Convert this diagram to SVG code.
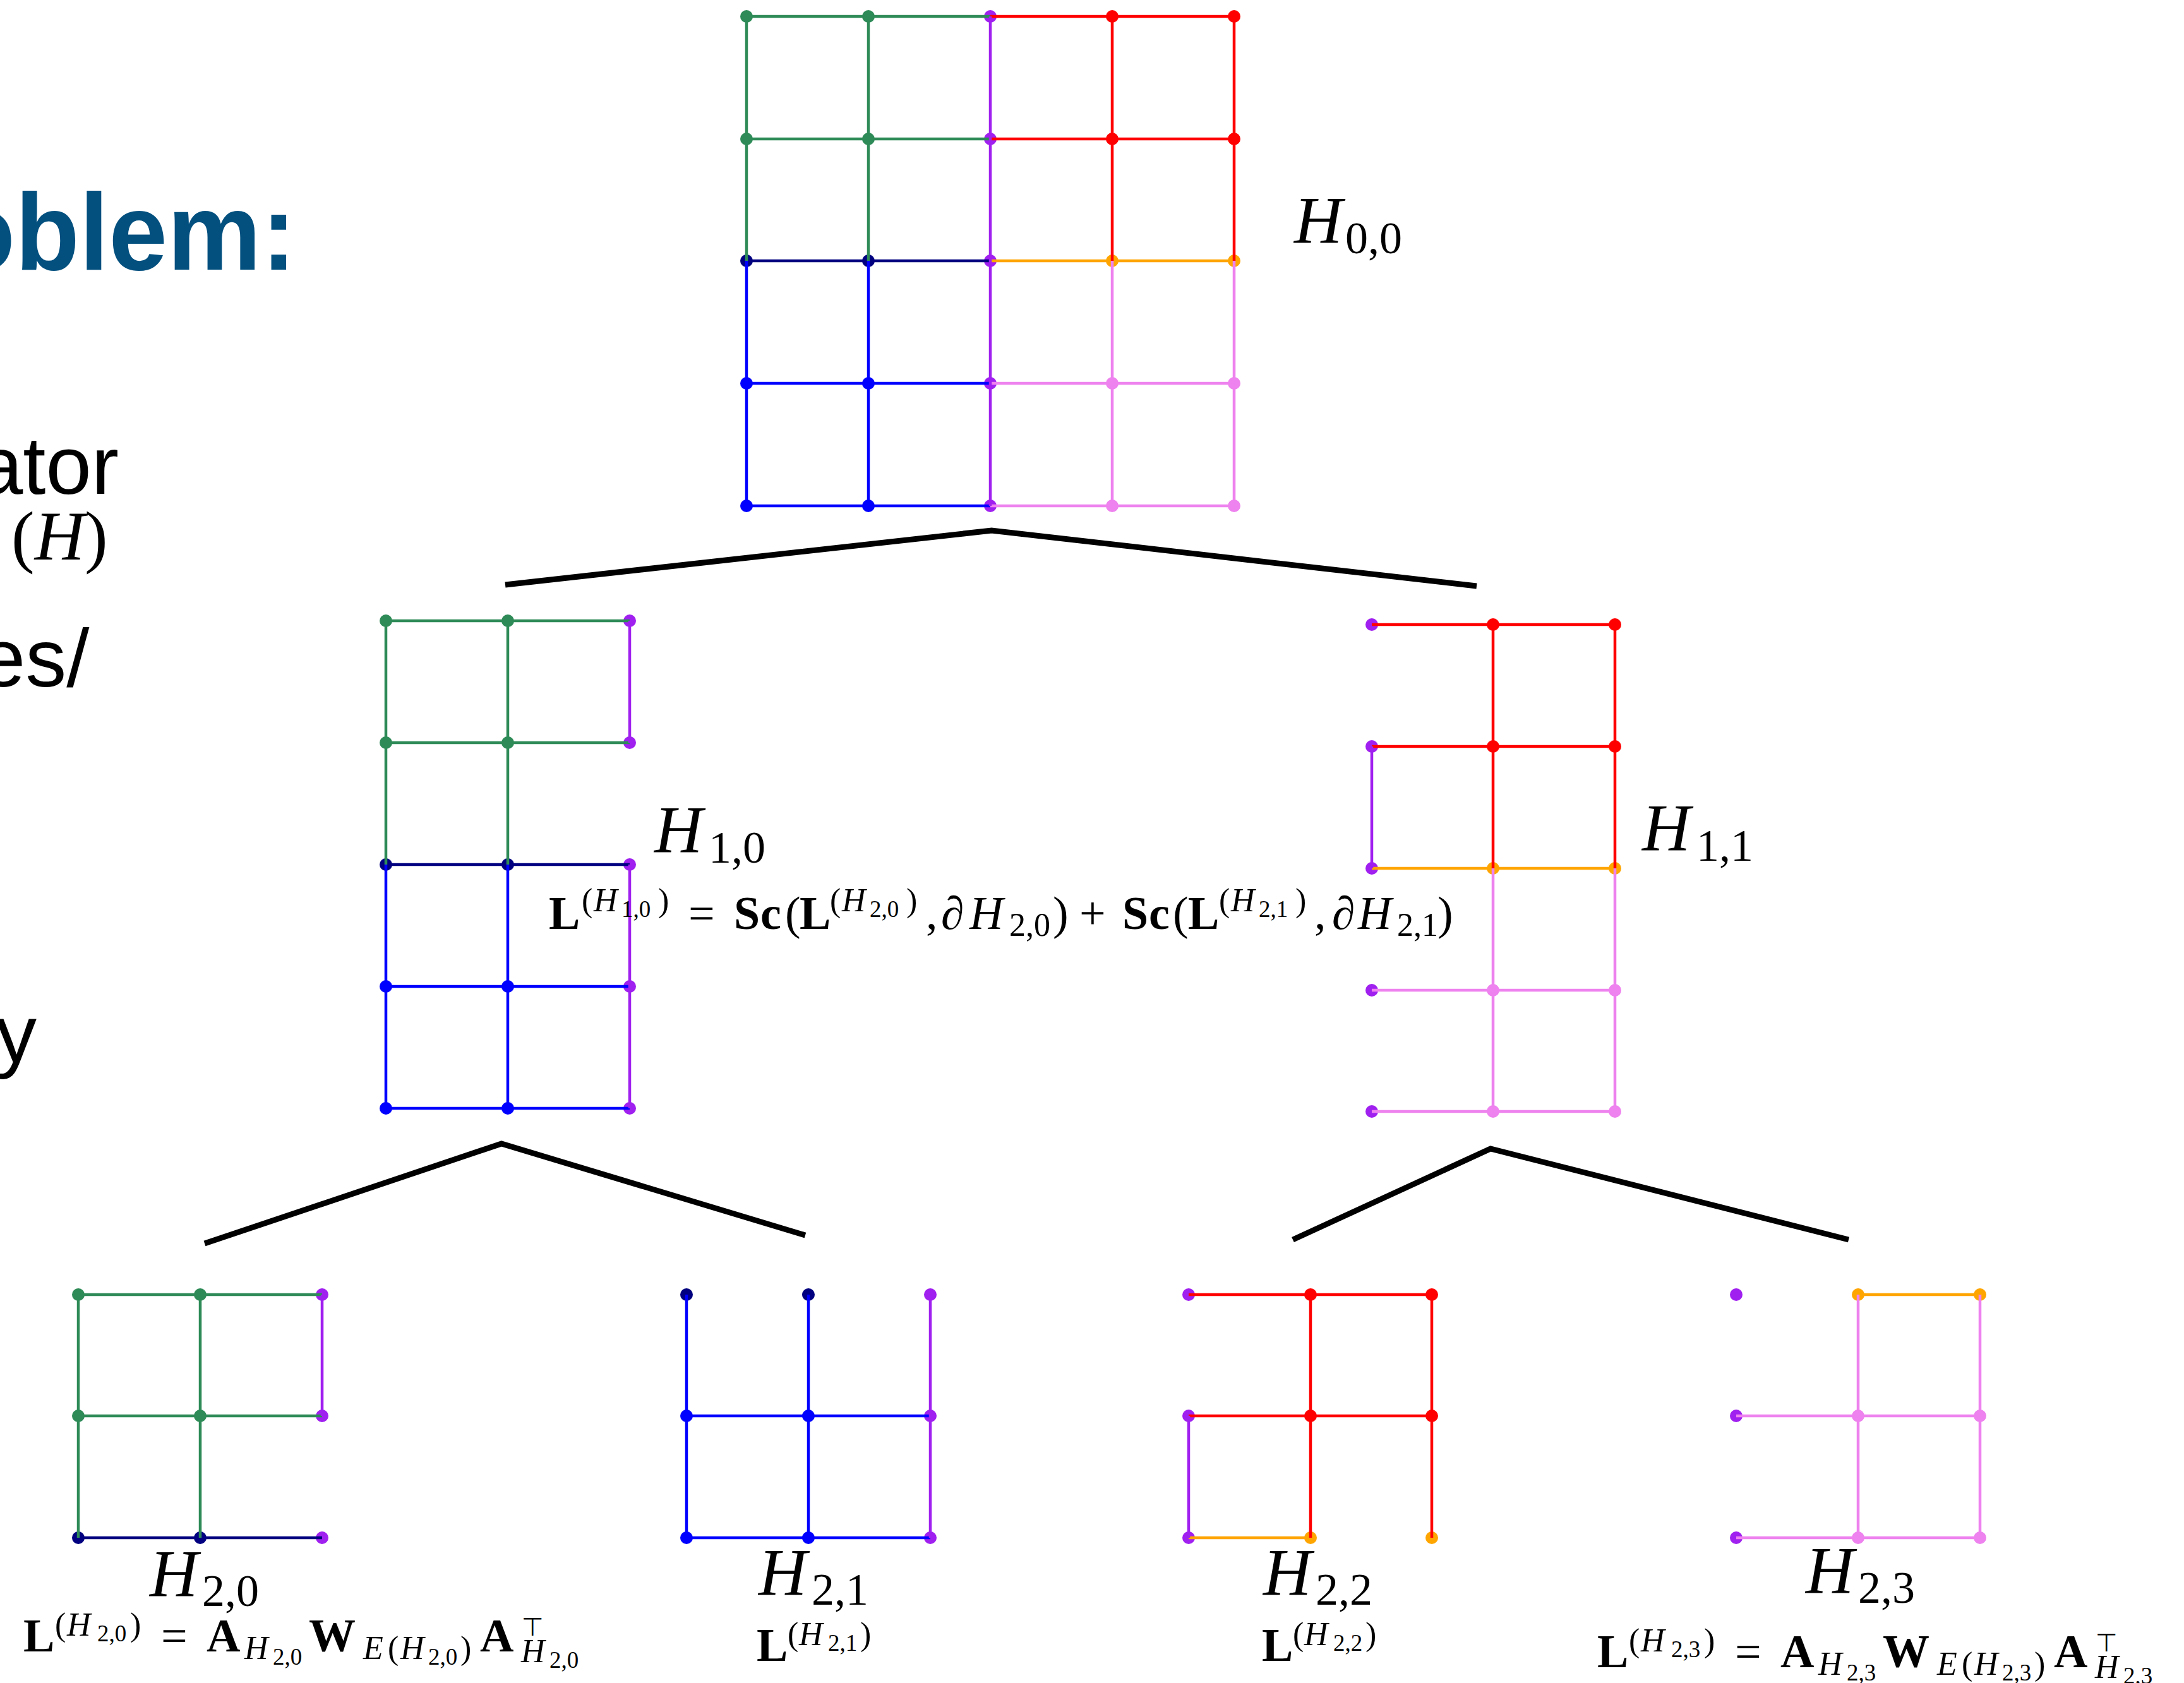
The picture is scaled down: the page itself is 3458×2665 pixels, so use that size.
<svg xmlns="http://www.w3.org/2000/svg" width="3458" height="2665" viewBox="0 0 3458 2665">
<defs>
<style>
.bg{fill:#ffffff}
.e{stroke-width:4.5;fill:none}
.sG{stroke:#2E8B57}.sP{stroke:#A020F0}.sR{stroke:#FF0000}.sN{stroke:#000080}.sB{stroke:#0000FF}.sO{stroke:#FFA500}.sV{stroke:#EE82EE}
.fG{fill:#2E8B57}.fP{fill:#A020F0}.fR{fill:#FF0000}.fN{fill:#000080}.fB{fill:#0000FF}.fO{fill:#FFA500}.fV{fill:#EE82EE}
.conn{stroke:#000;stroke-width:9;fill:none;stroke-linejoin:miter}
.m{font-family:"Liberation Serif","DejaVu Serif",serif;fill:#000}
.it{font-style:italic}
.bf{font-weight:bold}
.sym{font-family:"DejaVu Sans",sans-serif}
.slide{font-family:"Liberation Sans",Arial,sans-serif;fill:#000}
.title{font-family:"Liberation Sans",Arial,sans-serif;font-weight:bold;fill:#03507F}
</style>
</defs>
<rect class="bg" x="0" y="0" width="3458" height="2665"/>

<g id="slide-text">
<text class="title" x="-78" y="427" font-size="173" textLength="547" lengthAdjust="spacingAndGlyphs">oblem:</text>
<text class="slide" x="-36" y="782" font-size="130">ator</text>
<text class="m" x="18" y="886" font-size="110">(<tspan class="it">H</tspan>)</text>
<text class="slide" x="-32" y="1087" font-size="130">es/</text>
<text class="slide" x="-7" y="1682" font-size="130">y</text>
</g>

<g id="connectors">
<polyline class="conn" points="800,926 1570,840 2338,928"/>
<polyline class="conn" points="324,1969 794,1811 1275,1956"/>
<polyline class="conn" points="2047,1963 2360,1819 2927,1963"/>
</g>

<g id="node-H00">
<g>
<circle cx="1182" cy="26" r="10" class="fG"/><circle cx="1375" cy="26" r="10" class="fG"/><circle cx="1568" cy="26" r="10" class="fP"/><circle cx="1761" cy="26" r="10" class="fR"/><circle cx="1954" cy="26" r="10" class="fR"/>
<circle cx="1182" cy="220" r="10" class="fG"/><circle cx="1375" cy="220" r="10" class="fG"/><circle cx="1568" cy="220" r="10" class="fP"/><circle cx="1761" cy="220" r="10" class="fR"/><circle cx="1954" cy="220" r="10" class="fR"/>
<circle cx="1182" cy="413" r="10" class="fN"/><circle cx="1375" cy="413" r="10" class="fN"/><circle cx="1568" cy="413" r="10" class="fP"/><circle cx="1761" cy="413" r="10" class="fO"/><circle cx="1954" cy="413" r="10" class="fO"/>
<circle cx="1182" cy="607" r="10" class="fB"/><circle cx="1375" cy="607" r="10" class="fB"/><circle cx="1568" cy="607" r="10" class="fP"/><circle cx="1761" cy="607" r="10" class="fV"/><circle cx="1954" cy="607" r="10" class="fV"/>
<circle cx="1182" cy="801" r="10" class="fB"/><circle cx="1375" cy="801" r="10" class="fB"/><circle cx="1568" cy="801" r="10" class="fP"/><circle cx="1761" cy="801" r="10" class="fV"/><circle cx="1954" cy="801" r="10" class="fV"/>
</g>
<g class="e">
<line x1="1182" y1="26" x2="1375" y2="26" class="sG"/><line x1="1375" y1="26" x2="1568" y2="26" class="sG"/><line x1="1568" y1="26" x2="1761" y2="26" class="sR"/><line x1="1761" y1="26" x2="1954" y2="26" class="sR"/>
<line x1="1182" y1="220" x2="1375" y2="220" class="sG"/><line x1="1375" y1="220" x2="1568" y2="220" class="sG"/><line x1="1568" y1="220" x2="1761" y2="220" class="sR"/><line x1="1761" y1="220" x2="1954" y2="220" class="sR"/>
<line x1="1182" y1="413" x2="1375" y2="413" class="sN"/><line x1="1375" y1="413" x2="1568" y2="413" class="sN"/><line x1="1568" y1="413" x2="1761" y2="413" class="sO"/><line x1="1761" y1="413" x2="1954" y2="413" class="sO"/>
<line x1="1182" y1="607" x2="1375" y2="607" class="sB"/><line x1="1375" y1="607" x2="1568" y2="607" class="sB"/><line x1="1568" y1="607" x2="1761" y2="607" class="sV"/><line x1="1761" y1="607" x2="1954" y2="607" class="sV"/>
<line x1="1182" y1="801" x2="1375" y2="801" class="sB"/><line x1="1375" y1="801" x2="1568" y2="801" class="sB"/><line x1="1568" y1="801" x2="1761" y2="801" class="sV"/><line x1="1761" y1="801" x2="1954" y2="801" class="sV"/>
<line x1="1182" y1="26" x2="1182" y2="220" class="sG"/><line x1="1182" y1="220" x2="1182" y2="413" class="sG"/><line x1="1182" y1="413" x2="1182" y2="607" class="sB"/><line x1="1182" y1="607" x2="1182" y2="801" class="sB"/>
<line x1="1375" y1="26" x2="1375" y2="220" class="sG"/><line x1="1375" y1="220" x2="1375" y2="413" class="sG"/><line x1="1375" y1="413" x2="1375" y2="607" class="sB"/><line x1="1375" y1="607" x2="1375" y2="801" class="sB"/>
<line x1="1568" y1="26" x2="1568" y2="801" class="sP"/>
<line x1="1761" y1="26" x2="1761" y2="220" class="sR"/><line x1="1761" y1="220" x2="1761" y2="413" class="sR"/><line x1="1761" y1="413" x2="1761" y2="607" class="sV"/><line x1="1761" y1="607" x2="1761" y2="801" class="sV"/>
<line x1="1954" y1="26" x2="1954" y2="220" class="sR"/><line x1="1954" y1="220" x2="1954" y2="413" class="sR"/><line x1="1954" y1="413" x2="1954" y2="607" class="sV"/><line x1="1954" y1="607" x2="1954" y2="801" class="sV"/>
</g>
<text class="m"><tspan class="it" x="2049" y="384" font-size="106">H</tspan><tspan x="2130" y="401" font-size="72">0,0</tspan></text>
</g>

<g id="node-H10">
<g>
<circle cx="611" cy="983" r="10" class="fG"/><circle cx="804" cy="983" r="10" class="fG"/><circle cx="997" cy="983" r="10" class="fP"/>
<circle cx="611" cy="1176" r="10" class="fG"/><circle cx="804" cy="1176" r="10" class="fG"/><circle cx="997" cy="1176" r="10" class="fP"/>
<circle cx="611" cy="1369" r="10" class="fN"/><circle cx="804" cy="1369" r="10" class="fN"/><circle cx="997" cy="1369" r="10" class="fP"/>
<circle cx="611" cy="1562" r="10" class="fB"/><circle cx="804" cy="1562" r="10" class="fB"/><circle cx="997" cy="1562" r="10" class="fP"/>
<circle cx="611" cy="1755" r="10" class="fB"/><circle cx="804" cy="1755" r="10" class="fB"/><circle cx="997" cy="1755" r="10" class="fP"/>
</g>
<g class="e">
<line x1="611" y1="983" x2="804" y2="983" class="sG"/><line x1="804" y1="983" x2="997" y2="983" class="sG"/>
<line x1="611" y1="1176" x2="804" y2="1176" class="sG"/><line x1="804" y1="1176" x2="997" y2="1176" class="sG"/>
<line x1="611" y1="1369" x2="804" y2="1369" class="sN"/><line x1="804" y1="1369" x2="997" y2="1369" class="sN"/>
<line x1="611" y1="1562" x2="804" y2="1562" class="sB"/><line x1="804" y1="1562" x2="997" y2="1562" class="sB"/>
<line x1="611" y1="1755" x2="804" y2="1755" class="sB"/><line x1="804" y1="1755" x2="997" y2="1755" class="sB"/>
<line x1="611" y1="983" x2="611" y2="1176" class="sG"/><line x1="611" y1="1176" x2="611" y2="1369" class="sG"/><line x1="611" y1="1369" x2="611" y2="1562" class="sB"/><line x1="611" y1="1562" x2="611" y2="1755" class="sB"/>
<line x1="804" y1="983" x2="804" y2="1176" class="sG"/><line x1="804" y1="1176" x2="804" y2="1369" class="sG"/><line x1="804" y1="1369" x2="804" y2="1562" class="sB"/><line x1="804" y1="1562" x2="804" y2="1755" class="sB"/>
<line x1="997" y1="983" x2="997" y2="1176" class="sP"/><line x1="997" y1="1369" x2="997" y2="1755" class="sP"/>
</g>
<text class="m"><tspan class="it" x="1036" y="1349" font-size="106">H</tspan><tspan x="1122" y="1366" font-size="72">1,0</tspan></text>
<text class="m">
<tspan class="bf" x="869" y="1471" font-size="74">L</tspan><tspan x="921" y="1443" font-size="52">(</tspan><tspan class="it" x="940" y="1443" font-size="52">H</tspan><tspan x="984" y="1452" font-size="37">1,0</tspan><tspan x="1042" y="1443" font-size="52">)</tspan>
<tspan x="1090" y="1471" font-size="74">=</tspan>
<tspan class="bf" x="1162" y="1471" font-size="74">S</tspan><tspan class="bf" x="1204" y="1471" font-size="74">c</tspan><tspan x="1243" y="1471" font-size="74">(</tspan>
<tspan class="bf" x="1266" y="1471" font-size="74">L</tspan><tspan x="1314" y="1443" font-size="52">(</tspan><tspan class="it" x="1333" y="1443" font-size="52">H</tspan><tspan x="1377" y="1452" font-size="37">2,0</tspan><tspan x="1435" y="1443" font-size="52">)</tspan>
<tspan x="1466" y="1471" font-size="74">,</tspan><tspan class="it" x="1490" y="1471" font-size="74">∂</tspan><tspan class="it" x="1535" y="1471" font-size="74">H</tspan><tspan x="1598" y="1482" font-size="52">2,0</tspan><tspan x="1667" y="1471" font-size="74">)</tspan>
<tspan x="1709" y="1471" font-size="74">+</tspan>
<tspan class="bf" x="1777" y="1471" font-size="74">S</tspan><tspan class="bf" x="1819" y="1471" font-size="74">c</tspan><tspan x="1857" y="1471" font-size="74">(</tspan>
<tspan class="bf" x="1881" y="1471" font-size="74">L</tspan><tspan x="1930" y="1443" font-size="52">(</tspan><tspan class="it" x="1949" y="1443" font-size="52">H</tspan><tspan x="1993" y="1452" font-size="37">2,1</tspan><tspan x="2051" y="1443" font-size="52">)</tspan>
<tspan x="2081" y="1471" font-size="74">,</tspan><tspan class="it" x="2109" y="1471" font-size="74">∂</tspan><tspan class="it" x="2150" y="1471" font-size="74">H</tspan><tspan x="2212" y="1482" font-size="52">2,1</tspan><tspan x="2276" y="1471" font-size="74">)</tspan>
</text>
</g>

<g id="node-H11">
<g>
<circle cx="2172" cy="989" r="10" class="fP"/><circle cx="2364" cy="989" r="10" class="fR"/><circle cx="2557" cy="989" r="10" class="fR"/>
<circle cx="2172" cy="1182" r="10" class="fP"/><circle cx="2364" cy="1182" r="10" class="fR"/><circle cx="2557" cy="1182" r="10" class="fR"/>
<circle cx="2172" cy="1375" r="10" class="fP"/><circle cx="2364" cy="1375" r="10" class="fO"/><circle cx="2557" cy="1375" r="10" class="fO"/>
<circle cx="2172" cy="1568" r="10" class="fP"/><circle cx="2364" cy="1568" r="10" class="fV"/><circle cx="2557" cy="1568" r="10" class="fV"/>
<circle cx="2172" cy="1760" r="10" class="fP"/><circle cx="2364" cy="1760" r="10" class="fV"/><circle cx="2557" cy="1760" r="10" class="fV"/>
</g>
<g class="e">
<line x1="2172" y1="989" x2="2364" y2="989" class="sR"/><line x1="2364" y1="989" x2="2557" y2="989" class="sR"/>
<line x1="2172" y1="1182" x2="2364" y2="1182" class="sR"/><line x1="2364" y1="1182" x2="2557" y2="1182" class="sR"/>
<line x1="2172" y1="1375" x2="2364" y2="1375" class="sO"/><line x1="2364" y1="1375" x2="2557" y2="1375" class="sO"/>
<line x1="2172" y1="1568" x2="2364" y2="1568" class="sV"/><line x1="2364" y1="1568" x2="2557" y2="1568" class="sV"/>
<line x1="2172" y1="1760" x2="2364" y2="1760" class="sV"/><line x1="2364" y1="1760" x2="2557" y2="1760" class="sV"/>
<line x1="2172" y1="1182" x2="2172" y2="1375" class="sP"/>
<line x1="2364" y1="989" x2="2364" y2="1182" class="sR"/><line x1="2364" y1="1182" x2="2364" y2="1375" class="sR"/><line x1="2364" y1="1375" x2="2364" y2="1568" class="sV"/><line x1="2364" y1="1568" x2="2364" y2="1760" class="sV"/>
<line x1="2557" y1="989" x2="2557" y2="1182" class="sR"/><line x1="2557" y1="1182" x2="2557" y2="1375" class="sR"/><line x1="2557" y1="1375" x2="2557" y2="1568" class="sV"/><line x1="2557" y1="1568" x2="2557" y2="1760" class="sV"/>
</g>
<text class="m"><tspan class="it" x="2600" y="1346" font-size="106">H</tspan><tspan x="2686" y="1363" font-size="72">1,1</tspan></text>
</g>

<g id="node-H20">
<g>
<circle cx="124" cy="2050" r="10" class="fG"/><circle cx="317" cy="2050" r="10" class="fG"/><circle cx="510" cy="2050" r="10" class="fP"/>
<circle cx="124" cy="2242" r="10" class="fG"/><circle cx="317" cy="2242" r="10" class="fG"/><circle cx="510" cy="2242" r="10" class="fP"/>
<circle cx="124" cy="2435" r="10" class="fN"/><circle cx="317" cy="2435" r="10" class="fN"/><circle cx="510" cy="2435" r="10" class="fP"/>
</g>
<g class="e">
<line x1="124" y1="2050" x2="317" y2="2050" class="sG"/><line x1="317" y1="2050" x2="510" y2="2050" class="sG"/>
<line x1="124" y1="2242" x2="317" y2="2242" class="sG"/><line x1="317" y1="2242" x2="510" y2="2242" class="sG"/>
<line x1="124" y1="2435" x2="317" y2="2435" class="sN"/><line x1="317" y1="2435" x2="510" y2="2435" class="sN"/>
<line x1="124" y1="2050" x2="124" y2="2242" class="sG"/><line x1="124" y1="2242" x2="124" y2="2435" class="sG"/>
<line x1="317" y1="2050" x2="317" y2="2242" class="sG"/><line x1="317" y1="2242" x2="317" y2="2435" class="sG"/>
<line x1="510" y1="2050" x2="510" y2="2242" class="sP"/>
</g>
<text class="m"><tspan class="it" x="237" y="2527" font-size="106">H</tspan><tspan x="320" y="2543" font-size="72">2,0</tspan></text>
<text class="m">
<tspan class="bf" x="37" y="2615" font-size="74">L</tspan><tspan x="87" y="2590" font-size="52">(</tspan><tspan class="it" x="106" y="2590" font-size="52">H</tspan><tspan x="154" y="2599" font-size="37">2,0</tspan><tspan x="206" y="2590" font-size="52">)</tspan>
<tspan x="255" y="2615" font-size="74">=</tspan>
<tspan class="bf" x="327" y="2615" font-size="74">A</tspan><tspan class="it" x="387" y="2627" font-size="52">H</tspan><tspan x="432" y="2636" font-size="37">2,0</tspan>
<tspan class="bf" x="489" y="2615" font-size="74">W</tspan><tspan class="it" x="575" y="2627" font-size="52">E</tspan><tspan x="614" y="2627" font-size="52">(</tspan><tspan class="it" x="634" y="2627" font-size="52">H</tspan><tspan x="678" y="2636" font-size="37">2,0</tspan><tspan x="729" y="2627" font-size="52">)</tspan>
<tspan class="bf" x="760" y="2615" font-size="74">A</tspan><tspan class="sym" x="826" y="2590" font-size="40">⊤</tspan><tspan class="it" x="825" y="2632" font-size="52">H</tspan><tspan x="870" y="2641" font-size="37">2,0</tspan>
</text>
</g>

<g id="node-H21">
<g>
<circle cx="1087" cy="2050" r="10" class="fN"/><circle cx="1280" cy="2050" r="10" class="fN"/><circle cx="1473" cy="2050" r="10" class="fP"/>
<circle cx="1087" cy="2242" r="10" class="fB"/><circle cx="1280" cy="2242" r="10" class="fB"/><circle cx="1473" cy="2242" r="10" class="fP"/>
<circle cx="1087" cy="2435" r="10" class="fB"/><circle cx="1280" cy="2435" r="10" class="fB"/><circle cx="1473" cy="2435" r="10" class="fP"/>
</g>
<g class="e">
<line x1="1087" y1="2242" x2="1280" y2="2242" class="sB"/><line x1="1280" y1="2242" x2="1473" y2="2242" class="sB"/>
<line x1="1087" y1="2435" x2="1280" y2="2435" class="sB"/><line x1="1280" y1="2435" x2="1473" y2="2435" class="sB"/>
<line x1="1087" y1="2050" x2="1087" y2="2242" class="sB"/><line x1="1087" y1="2242" x2="1087" y2="2435" class="sB"/>
<line x1="1280" y1="2050" x2="1280" y2="2242" class="sB"/><line x1="1280" y1="2242" x2="1280" y2="2435" class="sB"/>
<line x1="1473" y1="2050" x2="1473" y2="2242" class="sP"/><line x1="1473" y1="2242" x2="1473" y2="2435" class="sP"/>
</g>
<text class="m"><tspan class="it" x="1201" y="2525" font-size="106">H</tspan><tspan x="1285" y="2541" font-size="72">2,1</tspan></text>
<text class="m"><tspan class="bf" x="1198" y="2630" font-size="74">L</tspan><tspan x="1247" y="2605" font-size="52">(</tspan><tspan class="it" x="1265" y="2605" font-size="52">H</tspan><tspan x="1311" y="2614" font-size="37">2,1</tspan><tspan x="1362" y="2605" font-size="52">)</tspan></text>
</g>

<g id="node-H22">
<g>
<circle cx="1882" cy="2050" r="10" class="fP"/><circle cx="2075" cy="2050" r="10" class="fR"/><circle cx="2267" cy="2050" r="10" class="fR"/>
<circle cx="1882" cy="2242" r="10" class="fP"/><circle cx="2075" cy="2242" r="10" class="fR"/><circle cx="2267" cy="2242" r="10" class="fR"/>
<circle cx="1882" cy="2435" r="10" class="fP"/><circle cx="2075" cy="2435" r="10" class="fO"/><circle cx="2267" cy="2435" r="10" class="fO"/>
</g>
<g class="e">
<line x1="1882" y1="2050" x2="2075" y2="2050" class="sR"/><line x1="2075" y1="2050" x2="2267" y2="2050" class="sR"/>
<line x1="1882" y1="2242" x2="2075" y2="2242" class="sR"/><line x1="2075" y1="2242" x2="2267" y2="2242" class="sR"/>
<line x1="1882" y1="2435" x2="2075" y2="2435" class="sO"/>
<line x1="1882" y1="2242" x2="1882" y2="2435" class="sP"/>
<line x1="2075" y1="2050" x2="2075" y2="2242" class="sR"/><line x1="2075" y1="2242" x2="2075" y2="2435" class="sR"/>
<line x1="2267" y1="2050" x2="2267" y2="2242" class="sR"/><line x1="2267" y1="2242" x2="2267" y2="2435" class="sR"/>
</g>
<text class="m"><tspan class="it" x="2000" y="2525" font-size="106">H</tspan><tspan x="2083" y="2541" font-size="72">2,2</tspan></text>
<text class="m"><tspan class="bf" x="1998" y="2630" font-size="74">L</tspan><tspan x="2047" y="2605" font-size="52">(</tspan><tspan class="it" x="2065" y="2605" font-size="52">H</tspan><tspan x="2111" y="2614" font-size="37">2,2</tspan><tspan x="2162" y="2605" font-size="52">)</tspan></text>
</g>

<g id="node-H23">
<g>
<circle cx="2749" cy="2050" r="10" class="fP"/><circle cx="2942" cy="2050" r="10" class="fO"/><circle cx="3135" cy="2050" r="10" class="fO"/>
<circle cx="2749" cy="2242" r="10" class="fP"/><circle cx="2942" cy="2242" r="10" class="fV"/><circle cx="3135" cy="2242" r="10" class="fV"/>
<circle cx="2749" cy="2435" r="10" class="fP"/><circle cx="2942" cy="2435" r="10" class="fV"/><circle cx="3135" cy="2435" r="10" class="fV"/>
</g>
<g class="e">
<line x1="2942" y1="2050" x2="3135" y2="2050" class="sO"/>
<line x1="2749" y1="2242" x2="2942" y2="2242" class="sV"/><line x1="2942" y1="2242" x2="3135" y2="2242" class="sV"/>
<line x1="2749" y1="2435" x2="2942" y2="2435" class="sV"/><line x1="2942" y1="2435" x2="3135" y2="2435" class="sV"/>
<line x1="2942" y1="2050" x2="2942" y2="2242" class="sV"/><line x1="2942" y1="2242" x2="2942" y2="2435" class="sV"/>
<line x1="3135" y1="2050" x2="3135" y2="2242" class="sV"/><line x1="3135" y1="2242" x2="3135" y2="2435" class="sV"/>
</g>
<text class="m"><tspan class="it" x="2859" y="2522" font-size="106">H</tspan><tspan x="2942" y="2538" font-size="72">2,3</tspan></text>
<text class="m">
<tspan class="bf" x="2529" y="2640" font-size="74">L</tspan><tspan x="2579" y="2615" font-size="52">(</tspan><tspan class="it" x="2598" y="2615" font-size="52">H</tspan><tspan x="2646" y="2624" font-size="37">2,3</tspan><tspan x="2698" y="2615" font-size="52">)</tspan>
<tspan x="2747" y="2640" font-size="74">=</tspan>
<tspan class="bf" x="2819" y="2640" font-size="74">A</tspan><tspan class="it" x="2879" y="2652" font-size="52">H</tspan><tspan x="2924" y="2661" font-size="37">2,3</tspan>
<tspan class="bf" x="2981" y="2640" font-size="74">W</tspan><tspan class="it" x="3067" y="2652" font-size="52">E</tspan><tspan x="3106" y="2652" font-size="52">(</tspan><tspan class="it" x="3126" y="2652" font-size="52">H</tspan><tspan x="3170" y="2661" font-size="37">2,3</tspan><tspan x="3221" y="2652" font-size="52">)</tspan>
<tspan class="bf" x="3252" y="2640" font-size="74">A</tspan><tspan class="sym" x="3318" y="2615" font-size="40">⊤</tspan><tspan class="it" x="3317" y="2657" font-size="52">H</tspan><tspan x="3362" y="2666" font-size="37">2,3</tspan>
</text>
</g>
</svg>
